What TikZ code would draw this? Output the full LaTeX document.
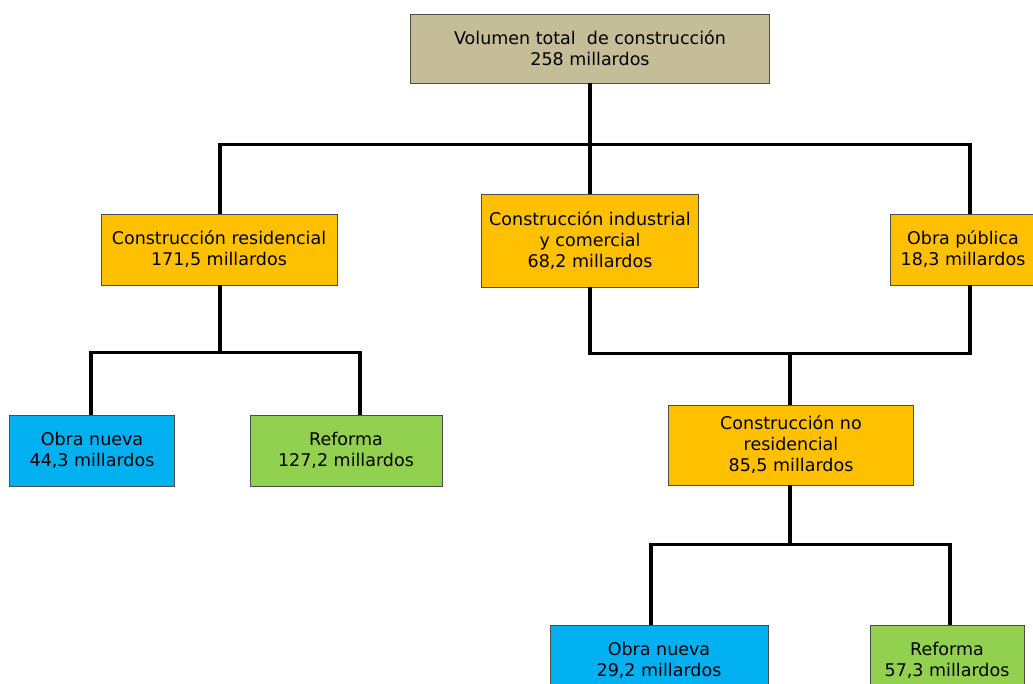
\documentclass[tikz,border=0pt]{standalone}
\usepackage{fontspec}
\setmainfont{DejaVu Sans}
\definecolor{tan}{HTML}{C4BD97}
\definecolor{orng}{HTML}{FFC000}
\definecolor{blu}{HTML}{00B0F0}
\definecolor{grn}{HTML}{92D050}
\begin{document}
\begin{tikzpicture}[x=1pt,y=-1pt,
  box/.style={draw=black!70,line width=0.9pt,rectangle,align=center,inner sep=0pt,
    font=\fontsize{17.5}{21}\selectfont},
  conn/.style={line width=3.4pt,black,line join=miter}]
\useasboundingbox (0,0) rectangle (1033,684);
\node[box,fill=tan,minimum width=359pt,minimum height=69pt] (top) at (590,48.5)
  {Volumen total\ \ de construcción\\258 millardos};
\node[box,fill=orng,minimum width=236pt,minimum height=71pt] (res) at (219,249.5)
  {Construcción residencial\\171,5 millardos};
\node[box,fill=orng,minimum width=217pt,minimum height=93pt] (ind) at (590,240.5)
  {Construcción industrial\\y comercial\\68,2 millardos};
\node[box,fill=orng,minimum width=146pt,minimum height=71pt] (pub) at (963,249.5)
  {Obra pública\\18,3 millardos};
\node[box,fill=blu,minimum width=165pt,minimum height=71pt] (on1) at (92,450.5)
  {Obra nueva\\44,3 millardos};
\node[box,fill=grn,minimum width=192pt,minimum height=71pt] (ref1) at (346,450.5)
  {Reforma\\127,2 millardos};
\node[box,fill=orng,minimum width=245pt,minimum height=80pt] (nores) at (791,445)
  {Construcción no\\residencial\\85,5 millardos};
\node[box,fill=blu,minimum width=218pt,minimum height=71pt] (on2) at (659,660.5)
  {Obra nueva\\29,2 millardos};
\node[box,fill=grn,minimum width=154pt,minimum height=71pt] (ref2) at (947,660.5)
  {Reforma\\57,3 millardos};
% connectors
\draw[conn] (top.south) -- (ind.north);
\draw[conn] ([xshift=1pt]res.north) -- ++(0,-69) -| ([xshift=7pt]pub.north);
\draw[conn] ([xshift=1pt]res.south) -- ++(0,68);
\draw[conn] ([xshift=-1pt]on1.north) -- ++(0,-62) -| ([xshift=14pt]ref1.north);
\draw[conn] (ind.south) -- ++(0,66) -| ([xshift=7pt]pub.south);
\draw[conn] ([xshift=-1pt]nores.north) -- ++(0,-52);
\draw[conn] ([xshift=-1pt]nores.south) -- ++(0,60);
\draw[conn] ([xshift=-8pt]on2.north) -- ++(0,-80) -| ([xshift=3pt]ref2.north);
\end{tikzpicture}
\end{document}
